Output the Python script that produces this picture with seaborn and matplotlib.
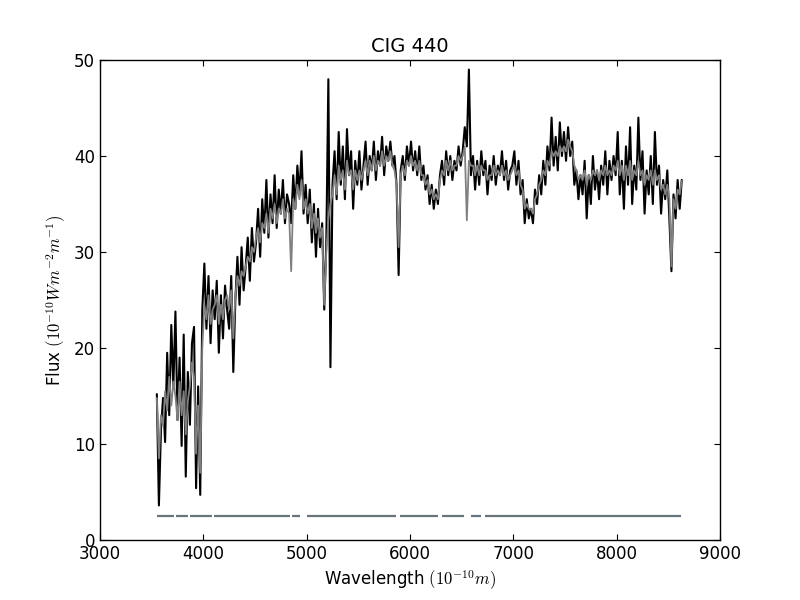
import numpy as np
import pandas as pd
import matplotlib
matplotlib.use("Agg")
import matplotlib.pyplot as plt
import seaborn as sns

# ---------------- data ----------------
wl_start, wl_step, wl_stop = 3550, 20, 8630

observed_flux = [
    # 3550-3990
    15.2, 3.6, 11.5, 14.8, 10.2, 19.5, 13.0, 22.4, 16.0, 23.8, 12.5, 19.0, 9.8, 21.4, 6.6, 17.5, 12.0, 20.5, 22.2, 5.4, 16.0, 4.7, 24.0,
    # 4010-4490
    28.8, 22.0, 27.5, 20.5, 26.0, 23.0, 27.0, 19.5, 25.5, 21.0, 26.5, 24.0, 22.0, 27.5, 17.5, 25.0, 29.5, 24.5, 30.5, 26.0, 28.5, 31.5, 27.0, 32.5, 29.0,
    # 4510-4990
    31.0, 34.5, 29.5, 35.5, 32.0, 37.5, 31.5, 36.0, 33.0, 38.0, 32.5, 36.5, 34.0, 37.5, 33.0, 36.0, 35.0, 33.0, 38.0, 34.5, 39.0, 36.0, 40.5, 34.0, 37.0,
    # 5010-5490
    33.0, 36.5, 31.0, 35.0, 29.5, 34.5, 30.5, 33.0, 24.0, 31.0, 48.0, 18.0, 37.0, 40.5, 35.5, 42.5, 37.0, 41.0, 35.5, 42.8, 38.0, 40.5, 34.5, 39.5, 37.0,
    # 5510-5990
    40.5, 36.5, 39.0, 41.5, 37.0, 40.0, 38.5, 41.5, 37.5, 40.5, 39.0, 42.0, 38.0, 41.0, 39.5, 41.5, 39.0, 40.0, 37.0, 27.6, 38.5, 40.0, 37.5, 41.0, 39.0,
    # 6010-6490
    41.5, 38.5, 40.5, 38.0, 41.0, 37.5, 39.0, 36.5, 38.0, 35.0, 37.0, 34.5, 36.5, 35.0, 38.0, 39.5, 37.0, 40.5, 38.0, 40.0, 37.5, 39.5, 38.5, 41.0, 39.0,
    # 6510-6990
    40.5, 43.0, 41.0, 49.0, 38.0, 40.0, 36.5, 39.5, 37.0, 40.5, 38.0, 39.5, 36.0, 39.0, 37.5, 40.0, 37.0, 39.0, 38.0, 40.5, 37.5, 39.5, 36.5, 38.5, 39.0,
    # 7010-7490
    40.5, 37.0, 39.5, 36.0, 37.5, 33.0, 35.5, 33.5, 34.5, 33.0, 36.5, 35.0, 38.0, 36.0, 39.5, 37.0, 41.0, 38.5, 44.0, 39.0, 42.0, 38.5, 43.5, 40.0, 42.5,
    # 7510-7990
    39.5, 43.0, 40.0, 41.5, 37.0, 38.5, 35.5, 38.0, 36.0, 39.5, 33.5, 38.0, 35.0, 40.0, 36.5, 38.5, 35.5, 39.0, 37.0, 40.5, 36.0, 39.5, 37.5, 40.0, 38.0,
    # 8010-8630
    42.5, 36.0, 39.5, 34.5, 41.0, 37.0, 43.0, 35.0, 39.0, 36.5, 44.0, 37.5, 40.5, 34.0, 38.5, 36.0, 40.0, 35.0, 42.5, 37.0, 39.0, 34.0, 37.5, 35.5, 38.5, 33.5, 28.0, 36.0, 33.5, 37.5, 34.5, 37.5,
]

model_flux = [
    # 3550-3990
    14.8, 8.5, 13.0, 12.0, 15.5, 13.5, 17.0, 14.0, 16.5, 15.0, 12.5, 16.5, 13.0, 15.5, 11.0, 14.5, 16.0, 18.5, 17.0, 9.0, 14.0, 7.0, 20.0,
    # 4010-4490
    24.5, 23.0, 25.5, 22.5, 24.0, 24.5, 25.5, 22.5, 24.5, 23.0, 25.0, 25.5, 24.0, 26.0, 21.0, 25.5, 27.5, 26.5, 28.0, 27.5, 28.5, 29.5, 29.0, 30.5, 30.0,
    # 4510-4990
    31.5, 32.5, 31.0, 33.0, 32.5, 34.0, 32.0, 34.5, 33.5, 35.0, 33.0, 34.5, 34.0, 35.5, 33.5, 34.5, 34.0, 28.0, 35.5, 34.5, 37.0, 35.5, 37.5, 34.5, 35.5,
    # 5010-5490
    34.0, 35.0, 32.5, 34.0, 32.0, 33.5, 31.5, 32.5, 24.5, 30.0, 33.5, 35.0, 36.0, 38.0, 36.0, 39.0, 37.5, 38.5, 36.5, 39.5, 38.0, 38.5, 36.5, 38.5, 37.5,
    # 5510-5990
    38.5, 37.5, 38.5, 39.5, 38.0, 39.5, 38.5, 40.0, 38.5, 39.5, 39.0, 40.5, 39.0, 40.0, 39.5, 40.5, 39.0, 38.5, 37.0, 30.5, 38.0, 39.0, 38.0, 39.5, 39.0,
    # 6010-6490
    40.0, 39.0, 39.5, 38.5, 39.5, 38.0, 38.0, 37.0, 37.5, 36.0, 36.5, 35.5, 36.0, 35.5, 37.5, 38.5, 38.0, 39.5, 38.5, 39.5, 38.5, 39.0, 39.0, 40.0, 39.5,
    # 6510-6990
    40.0, 41.0, 33.3, 39.5, 39.0, 39.0, 38.0, 39.0, 38.0, 39.0, 38.5, 38.5, 37.5, 38.0, 38.0, 39.0, 38.0, 38.5, 38.0, 39.0, 38.0, 38.5, 37.5, 38.0, 38.5,
    # 7010-7490
    39.0, 38.0, 38.5, 37.0, 36.5, 34.5, 35.0, 34.5, 34.5, 34.0, 35.5, 36.0, 37.0, 37.5, 38.5, 38.0, 39.5, 39.0, 40.5, 40.0, 40.5, 40.0, 41.0, 40.5, 41.0,
    # 7510-7990
    40.5, 41.7, 41.0, 40.5, 39.0, 38.5, 37.5, 38.0, 37.5, 38.5, 37.0, 38.0, 37.5, 38.5, 38.0, 38.5, 37.5, 38.5, 38.0, 39.0, 38.0, 38.5, 38.0, 39.0, 38.5,
    # 8010-8630
    39.5, 38.0, 39.0, 37.5, 39.0, 38.0, 39.5, 37.5, 38.5, 38.0, 39.5, 38.0, 38.5, 37.0, 38.0, 37.5, 38.5, 37.0, 38.5, 37.5, 38.0, 36.5, 37.0, 36.0, 37.0, 35.5, 28.5, 35.5, 34.5, 36.5, 36.0, 37.4,
]

# good-pixel mask segments (start, end wavelength) drawn at a constant level
mask_starts = [3552, 3731, 3869, 4100, 4860, 5008, 5900, 6307, 6590, 6729]
mask_ends   = [3714, 3852, 4087, 4843, 4939, 5865, 6272, 6524, 6689, 8623]
mask_level = 2.5

title = "CIG 440"
xlabel = r"Wavelength $(10^{-10} m)$"
ylabel = r"Flux $(10^{-10} W m^{-2} m^{-1})$"
xticks = [3000, 4000, 5000, 6000, 7000, 8000, 9000]
yticks = [0, 10, 20, 30, 40, 50]

# ---------------- plotting ----------------
wavelength = np.arange(wl_start, wl_stop + 1, wl_step)
assert len(wavelength) == len(observed_flux) == len(model_flux)

spec = pd.DataFrame({"wavelength": wavelength,
                     "observed": observed_flux,
                     "model": model_flux})

sns.set_style("white")
plt.rcParams.update({
    "font.family": ["DejaVu Sans"],
    "mathtext.fontset": "cm",
    "axes.edgecolor": "black",
    "axes.linewidth": 1.0,
    "xtick.direction": "in",
    "ytick.direction": "in",
    "xtick.top": True,
    "ytick.right": True,
    "xtick.bottom": True,
    "ytick.left": True,
    "xtick.major.size": 4,
    "ytick.major.size": 4,
    "xtick.color": "black",
    "ytick.color": "black",
    "xtick.labelsize": 12,
    "ytick.labelsize": 12,
    "axes.labelsize": 12,
    "axes.titlesize": 14,
    "text.color": "black",
    "axes.labelcolor": "black",
})

fig = plt.figure(figsize=(8, 6), dpi=100)
ax = fig.add_axes([0.125, 0.1, 0.775, 0.8])

sns.lineplot(data=spec, x="wavelength", y="observed", ax=ax, color="black",
             linewidth=1.5, sort=False, estimator=None)
sns.lineplot(data=spec, x="wavelength", y="model", ax=ax, color="#808080",
             linewidth=1.3, sort=False, estimator=None)

for s, e in zip(mask_starts, mask_ends):
    seg = pd.DataFrame({"wavelength": [s, e], "level": [mask_level, mask_level]})
    sns.lineplot(data=seg, x="wavelength", y="level", ax=ax, color="#66767c",
                 linewidth=1.6, sort=False, estimator=None,
                 solid_capstyle="butt")

ax.set_xlim(3000, 9000)
ax.set_ylim(0, 50)
ax.set_xticks(xticks)
ax.set_yticks(yticks)
ax.set_title(title)
ax.set_xlabel(xlabel)
ax.set_ylabel(ylabel)
for sp in ax.spines.values():
    sp.set_visible(True)
    sp.set_color("black")

fig.savefig("out.png", dpi=100, facecolor="white")
